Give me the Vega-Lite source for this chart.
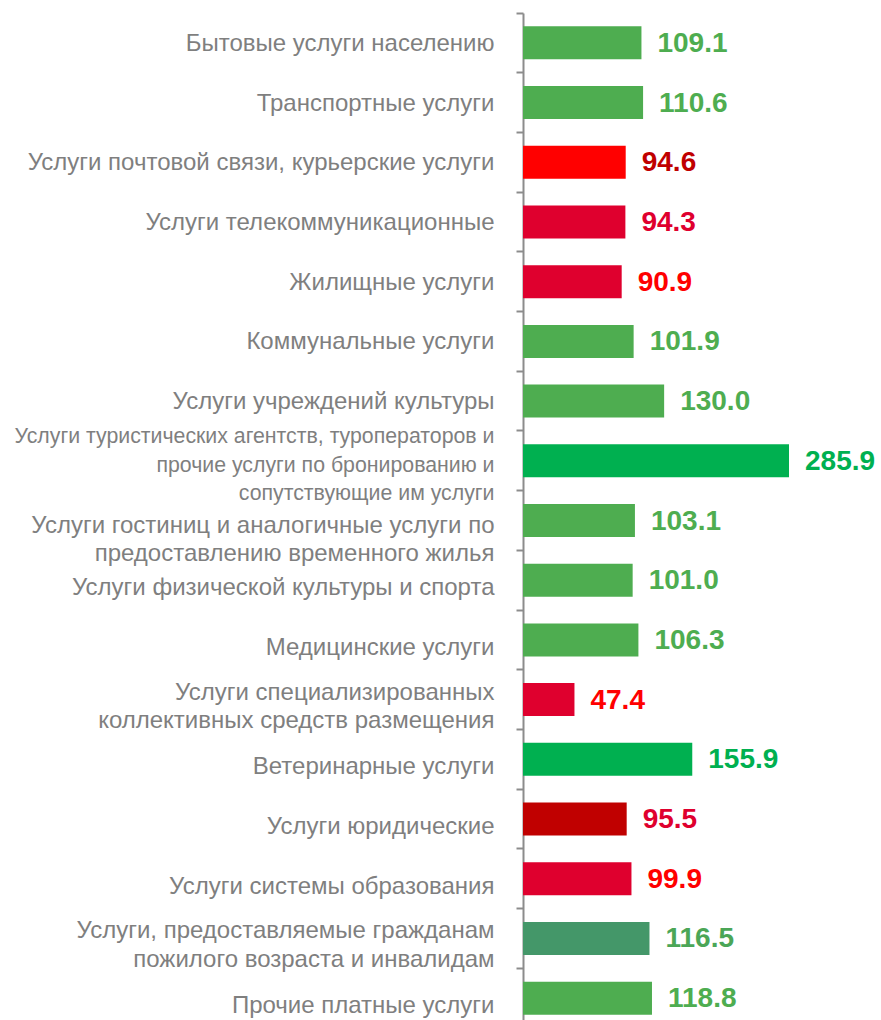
{
  "$schema": "https://vega.github.io/schema/vega-lite/v6.json",
  "autosize": {"type": "none"},
  "padding": {"left": 523, "top": 13, "right": 92, "bottom": 0},
  "width": 266,
  "height": 1007,
  "background": "white",
  "config": {"view": {"stroke": null}, "font": "Liberation Sans"},
  "data": {"values": [
    {"category": "Бытовые услуги населению", "value": 109.1},
    {"category": "Транспортные услуги", "value": 110.6},
    {"category": "Услуги почтовой связи, курьерские услуги", "value": 94.6},
    {"category": "Услуги телекоммуникационные", "value": 94.3},
    {"category": "Жилищные услуги", "value": 90.9},
    {"category": "Коммунальные услуги", "value": 101.9},
    {"category": "Услуги учреждений культуры", "value": 130.0},
    {"category": "Услуги туристических агентств, туроператоров и\nпрочие услуги по бронированию и\nсопутствующие им услуги", "value": 285.9},
    {"category": "Услуги гостиниц и аналогичные услуги по\nпредоставлению временного жилья", "value": 103.1},
    {"category": "Услуги физической культуры и спорта", "value": 101.0},
    {"category": "Медицинские услуги", "value": 106.3},
    {"category": "Услуги специализированных\nколлективных средств размещения", "value": 47.4},
    {"category": "Ветеринарные услуги", "value": 155.9},
    {"category": "Услуги юридические", "value": 95.5},
    {"category": "Услуги системы образования", "value": 99.9},
    {"category": "Услуги, предоставляемые гражданам\nпожилого возраста и инвалидам", "value": 116.5},
    {"category": "Прочие платные услуги", "value": 118.8}
  ]},
  "encoding": {
    "y": {
      "field": "category",
      "type": "nominal",
      "sort": null,
      "scale": {"range": [0, 1015], "paddingInner": 0, "paddingOuter": 0},
      "axis": {
        "title": null,
        "grid": false,
        "bandPosition": 0,
        "labelOffset": {
          "condition": [
            {"test": "indexof(datum.value, 'гостиниц') >= 0", "value": 5},
            {"test": "indexof(datum.value, 'туристических') >= 0", "value": -23.5},
            {"test": "indexof(datum.value, '\\n') >= 0", "value": -7},
            {"test": "datum.index > 0.52", "value": 8}
          ],
          "value": 1
        },
        "labelExpr": "split(datum.value, '\\n')",
        "labelFont": "Liberation Sans",
        "labelFontSize": {"condition": {"test": "indexof(datum.value, 'туристических') >= 0", "value": 21.3}, "value": 24},
        "labelLineHeight": 28.5,
        "labelColor": "#7f7f7f",
        "labelLimit": 700,
        "labelPadding": 22,
        "labelBaseline": "middle",
        "tickSize": 7,
        "tickWidth": 2,
        "tickColor": "#8c8c8c",
        "domainColor": "#8c8c8c",
        "domainWidth": 2
      }
    },
    "x": {
      "field": "value",
      "type": "quantitative",
      "scale": {"domain": [0, 245], "clamp": true, "nice": false},
      "axis": null
    }
  },
  "layer": [
    {
      "mark": {"type": "bar", "size": 33},
      "encoding": {
        "color": {
          "field": "category",
          "type": "nominal",
          "legend": null,
          "scale": {
            "domain": [
              "Бытовые услуги населению",
              "Транспортные услуги",
              "Услуги почтовой связи, курьерские услуги",
              "Услуги телекоммуникационные",
              "Жилищные услуги",
              "Коммунальные услуги",
              "Услуги учреждений культуры",
              "Услуги туристических агентств, туроператоров и\nпрочие услуги по бронированию и\nсопутствующие им услуги",
              "Услуги гостиниц и аналогичные услуги по\nпредоставлению временного жилья",
              "Услуги физической культуры и спорта",
              "Медицинские услуги",
              "Услуги специализированных\nколлективных средств размещения",
              "Ветеринарные услуги",
              "Услуги юридические",
              "Услуги системы образования",
              "Услуги, предоставляемые гражданам\nпожилого возраста и инвалидам",
              "Прочие платные услуги"
            ],
            "range": ["#4EAD50", "#4EAD50", "#FF0000", "#DF002E", "#DF002E", "#4EAD50", "#4EAD50", "#00B050", "#4EAD50", "#4EAD50", "#4EAD50", "#DF002E", "#00B050", "#C00000", "#DF002E", "#449769", "#4EAD50"]
          }
        }
      }
    },
    {
      "mark": {"type": "text", "align": "left", "baseline": "middle", "dx": 16, "dy": 1, "fontSize": 28, "fontWeight": "bold"},
      "encoding": {
        "text": {"field": "value", "type": "quantitative", "format": ".1f"},
        "color": {
          "field": "category",
          "type": "nominal",
          "legend": null,
          "scale": {
            "domain": [
              "Бытовые услуги населению",
              "Транспортные услуги",
              "Услуги почтовой связи, курьерские услуги",
              "Услуги телекоммуникационные",
              "Жилищные услуги",
              "Коммунальные услуги",
              "Услуги учреждений культуры",
              "Услуги туристических агентств, туроператоров и\nпрочие услуги по бронированию и\nсопутствующие им услуги",
              "Услуги гостиниц и аналогичные услуги по\nпредоставлению временного жилья",
              "Услуги физической культуры и спорта",
              "Медицинские услуги",
              "Услуги специализированных\nколлективных средств размещения",
              "Ветеринарные услуги",
              "Услуги юридические",
              "Услуги системы образования",
              "Услуги, предоставляемые гражданам\nпожилого возраста и инвалидам",
              "Прочие платные услуги"
            ],
            "range": ["#4EAD50", "#4EAD50", "#C00000", "#DF002E", "#FF0000", "#4EAD50", "#4EAD50", "#00B050", "#4EAD50", "#4EAD50", "#4EAD50", "#FF0000", "#00B050", "#DF002E", "#FF0000", "#4BA657", "#4EAD50"]
          }
        }
      }
    }
  ],
  "resolve": {"scale": {"color": "independent"}}
}
